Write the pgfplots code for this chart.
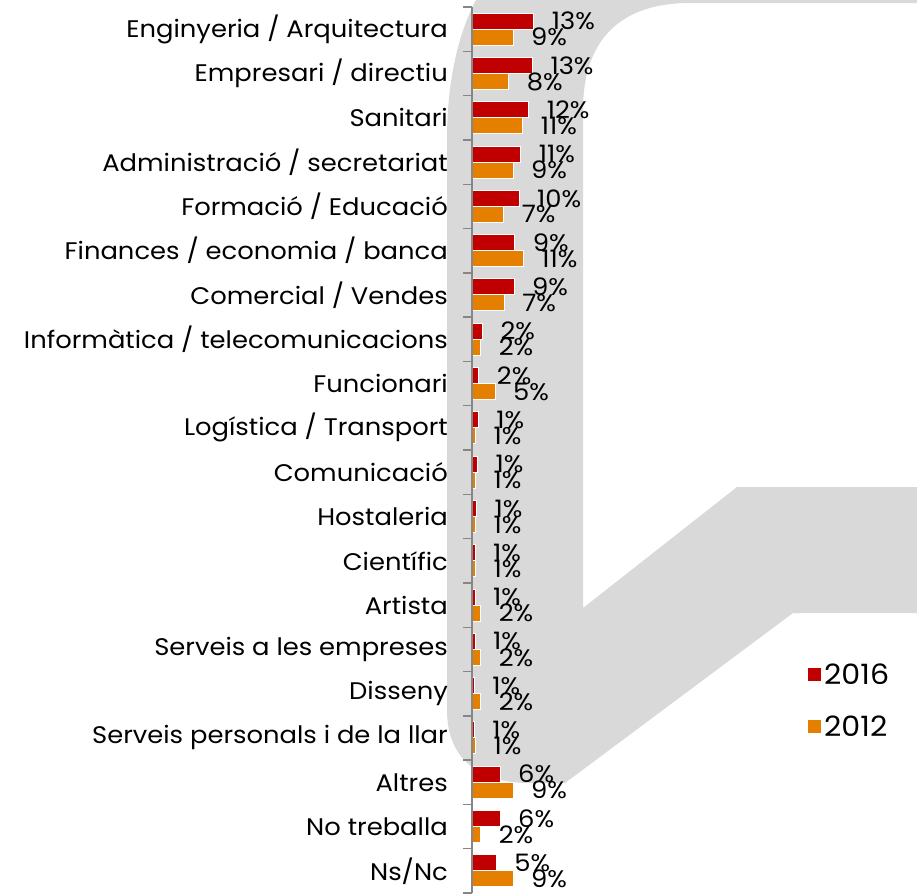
\documentclass[border=0pt]{standalone}
\usepackage{pgfplots}
\pgfplotsset{compat=1.18}
\usepackage{pgfplotstable}
\usepackage{fontspec}
\setmainfont{Poppins}[FakeStretch=1.075]
\definecolor{red16}{HTML}{C00000}
\definecolor{or12}{HTML}{E47F00}
\definecolor{wm}{HTML}{D9D9D9}
\definecolor{axgray}{HTML}{868686}

\pgfplotstableread{
i v16 l16 v12 l12
0 13.4 13 8.9 9
1 13.1 13 8.0 8
2 12.3 12 11.0 11
3 10.6 11 8.9 9
4 10.2 10 6.9 7
5 9.3 9 11.1 11
6 9.1 9 7.0 7
7 2.3 2 1.9 2
8 1.5 2 5.0 5
9 1.4 1 0.8 1
10 1.2 1 0.8 1
11 1.0 1 0.8 1
12 0.7 1 0.8 1
13 0.7 1 1.9 2
14 0.7 1 1.9 2
15 0.5 1 1.9 2
16 0.5 1 0.8 1
17 6.1 6 8.9 9
18 6.1 6 1.9 2
19 5.3 5 8.9 9
}\data

\begin{document}
\begin{tikzpicture}
\useasboundingbox (0,0) rectangle (917pt,-895pt);
\begin{scope}[x=1pt,y=-1pt]
\fill[wm] (476,0) .. controls (455,40) and (447,90) .. (447,140) -- (447,710)
  .. controls (447,760) and (480,783) .. (530,783) -- (565,783) -- (793,613)
  -- (917,613) -- (917,487) -- (737,487) -- (583,608) -- (583,110)
  .. controls (583,40) and (620,3) .. (690,3) -- (917,3) -- (917,0) -- cycle;
\end{scope}
\begin{axis}[
  at={(472pt,-893pt)}, anchor=south west,
  scale only axis, width=445pt, height=886pt,
  xmin=0, xmax=96.3,
  ymin=-0.5, ymax=19.5, y dir=reverse,
  axis x line=none,
  axis y line*=left,
  y axis line style={draw=axgray, line width=1.5pt, -},
  xbar, bar width=16pt,
  clip=false, axis on top,
  ytick={0,...,19},
  yticklabels={Enginyeria / Arquitectura, Empresari / directiu, Sanitari,
    Administració / secretariat, Formació / Educació,
    Finances / economia / banca, Comercial / Vendes,
    Informàtica / telecomunicacions, Funcionari, Logística / Transport,
    Comunicació, Hostaleria, Científic, Artista, Serveis a les empreses,
    Disseny, Serveis personals i de la llar, Altres, No treballa, Ns/Nc},
  major tick length=0pt,
  minor ytick={-0.5,0.5,...,19.5},
  minor tick length=9pt,
  tick align=outside,
  minor tick style={draw=axgray, line width=1.4pt},
  yticklabel style={font=\fontsize{24}{28}\selectfont, anchor=east, inner sep=0pt, xshift=-24pt},
  point meta=explicit symbolic,
  nodes near coords={\makebox[0pt][l]{\hspace*{17pt}\pgfplotspointmeta\%}},
  nodes near coords style={anchor=west, inner sep=0pt,
    font=\fontsize{24}{28}\selectfont, text=black},
  legend style={at={(axis description cs:0.746,0.217)}, anchor=west,
    draw=none, fill=none, font=\fontsize{28}{32}\selectfont,
    row sep=26pt},
  legend cell align=left,
  legend image code/.code={\fill[#1] (0pt,-7pt) rectangle (14pt,7pt);},
]
\addplot[fill=red16, draw=white, line width=1pt, bar shift=8pt]
  table[x=v16, y=i, meta=l16] {\data};
\addlegendentry{2016}
\addplot[fill=or12, draw=white, line width=1pt, bar shift=-8pt]
  table[x=v12, y=i, meta=l12] {\data};
\addlegendentry{2012}
\end{axis}
\end{tikzpicture}
\end{document}
